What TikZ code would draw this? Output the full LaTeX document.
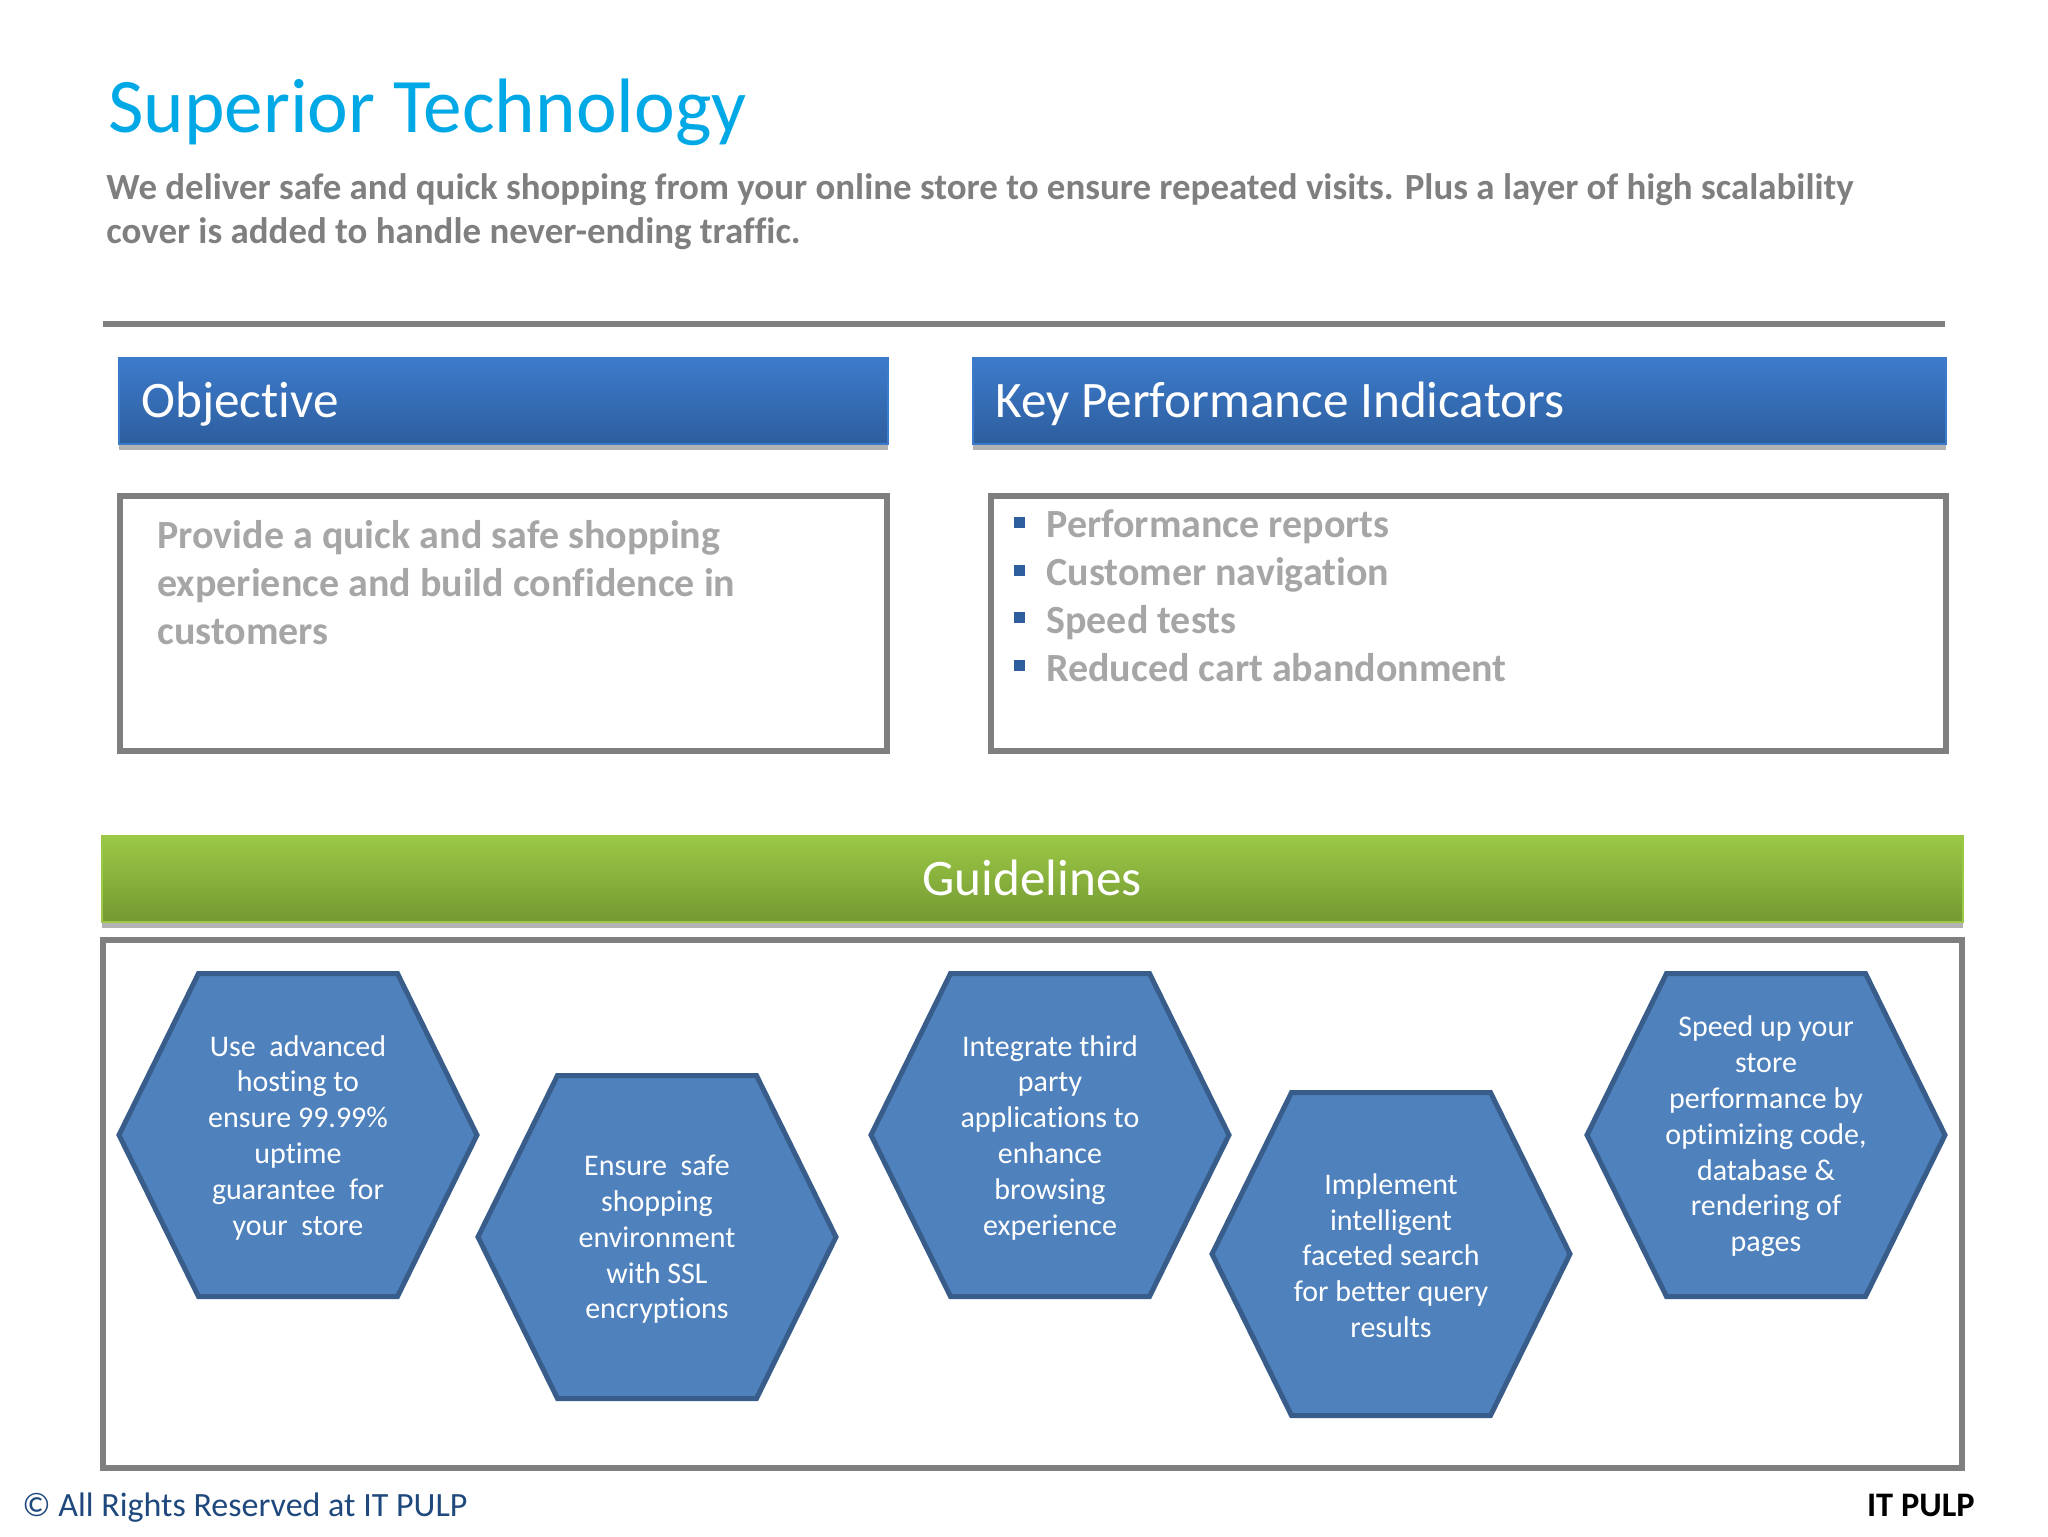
\documentclass[tikz,border=0pt]{standalone}
\usepackage{fontspec}
\setmainfont[Ligatures=NoCommon]{Carlito}
\usetikzlibrary{positioning,shadows}
\definecolor{titleblue}{HTML}{00A9E6}
\definecolor{rulegray}{HTML}{7F7F7F}
\definecolor{bodygray}{HTML}{A6A6A6}
\definecolor{hexfill}{HTML}{4F81BD}
\definecolor{hexline}{HTML}{385D8A}
\definecolor{footblue}{HTML}{1F497D}
\definecolor{barblue}{HTML}{3C7BCB}
\definecolor{barbluedark}{HTML}{2E5E9E}
\definecolor{bargreen}{HTML}{9BC845}
\definecolor{bargreendark}{HTML}{749933}
\tikzset{
    x=0.5pt, y=-0.5pt,
    %Define style for the heading bars
    bar/.style={
           rectangle,
           draw=#1, line width=0.75pt,
           anchor=north west,
           minimum height=43pt,
           inner sep=0pt,
           drop shadow={shadow xshift=0pt, shadow yshift=-3pt, opacity=0.6}},
    bluebar/.style={
           bar=barblue,
           top color=barblue, bottom color=barbluedark},
    greenbar/.style={
           bar=bargreen,
           top color=bargreen, bottom color=bargreendark},
    barlabel/.style={
           inner sep=0pt,
           text=white,
           font=\fontsize{25.6}{30}\selectfont},
    % Define style for the framed panels
    panel/.style={
           rectangle,
           draw=rulegray, line width=2.75pt,
           anchor=north west,
           inner sep=0pt},
    bodytext/.style={
          anchor=base west,
          inner sep=0pt,
          text=bodygray,
          font=\bfseries\fontsize{20}{24}\selectfont
    },
    introtext/.style={
          anchor=base west,
          inner sep=0pt,
          text=rulegray,
          font=\bfseries\fontsize{18.45}{22}\selectfont
    },
    bullet/.style={
          rectangle,
          fill=barbluedark,
          inner sep=0pt,
          minimum size=5.5pt
    },
    % Define style for the hexagons
    hexshape/.pic={
           \draw[hexline, line width=2.5pt, fill=hexfill]
               (-179,0) -- (-99.5,-161.5) -- (99.5,-161.5) -- (179,0) -- (99.5,161.5) -- (-99.5,161.5) -- cycle;},
    hexlabel/.style={
           inner sep=0pt,
           align=center,
           text=white,
           yshift=-1.25pt,
           font=\fontsize{15}{17.9}\selectfont},
}

\begin{document}
\begin{tikzpicture}
  \useasboundingbox (0,0) rectangle (2048,1536);
  \node[anchor=base west, inner sep=0pt, text=titleblue, font=\fontsize{38.6}{47}\selectfont]
      (title) at (108,133) {Superior Technology};
  \node[introtext] (intro1) at (106,199) {We deliver safe and quick shopping from your online store to ensure repeated visits. Plus a layer of high scalability};
  \node[introtext] (intro2) at (106,243) {cover is added to handle never-ending traffic.};
  \coordinate (ruleleft) at (103,324);
  \coordinate (ruleright) at (1945,324);
  \draw[rulegray, line width=3pt] (ruleleft) -- (ruleright);

  \node[bluebar, minimum width=384.5pt] (objbar) at (118,357) {};
  \node[barlabel, anchor=base west] (objlabel) at (141,417) {Objective};
  \node[bluebar, minimum width=486.5pt] (kpibar) at (972,357) {};
  \node[barlabel, anchor=base west] (kpilabel) at (995,417) {Key Performance Indicators};

  \node[panel, minimum width=383.5pt, minimum height=127.5pt] (objbox) at (117,493) {};
  \node[panel, minimum width=477.5pt, minimum height=127.5pt] (kpibox) at (988,493) {};

  \node[bodytext] (obj1) at (157,548) {Provide a quick and safe shopping};
  \node[bodytext] (obj2) at (157,596) {experience and build confidence in};
  \node[bodytext] (obj3) at (157,644) {customers};

  \node[bodytext] (kpi1) at (1046,537) {Performance reports};
  \node[bodytext] (kpi2) at (1046,585) {Customer navigation};
  \node[bodytext] (kpi3) at (1046,633) {Speed tests};
  \node[bodytext] (kpi4) at (1046,681) {Reduced cart abandonment};
  \foreach \i/\y in {1/522,2/570,3/617,4/665}
      \node[bullet] (mark\i) at (1019,\y) {};

  \node[greenbar, minimum width=930.5pt] (guidebar) at (101,835) {};
  \node[barlabel, anchor=base] (guidelabel) at (1032,895) {Guidelines};
  \node[panel, minimum width=929.5pt, minimum height=264pt] (guidebox) at (100,937) {};

  \pic at (298,1135) {hexshape};
  \node[hexlabel] (hosting) at (298,1135) {Use\ \ advanced\\hosting to\\ensure 99.99\%\\uptime\\guarantee\ \ for\\your\ \ store};
  \pic at (657,1237) {hexshape};
  \node[hexlabel] (safe) at (657,1237) {Ensure\ \ safe\\shopping\\environment\\with SSL\\encryptions};
  \pic at (1050,1135) {hexshape};
  \node[hexlabel] (third) at (1050,1135) {Integrate third\\party\\applications to\\enhance\\browsing\\experience};
  \pic at (1391,1254) {hexshape};
  \node[hexlabel] (search) at (1391,1253) {Implement\\intelligent\\faceted search\\for better query\\results};
  \pic at (1766,1135) {hexshape};
  \node[hexlabel] (speed) at (1766,1134) {Speed up your\\store\\performance by\\optimizing code,\\database \&\\rendering of\\pages};

  \node[anchor=base west, inner sep=0pt, text=footblue, font=\fontsize{17}{20}\selectfont]
      (rights) at (22,1516) {© All Rights Reserved at IT PULP};
  \node[anchor=base east, inner sep=0pt, text=black, font=\bfseries\fontsize{17.2}{20}\selectfont]
      (brand) at (1975,1516) {IT PULP};
\end{tikzpicture}
\end{document}
